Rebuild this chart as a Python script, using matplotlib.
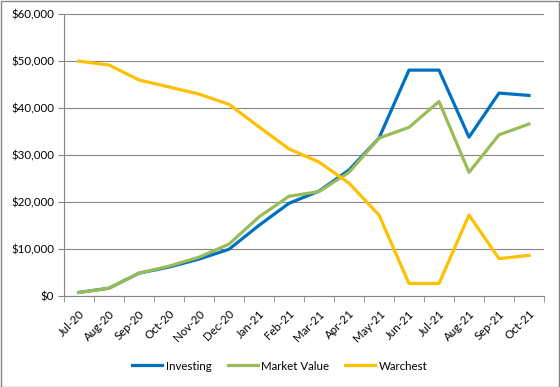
import matplotlib.pyplot as plt
from matplotlib.ticker import FuncFormatter, MultipleLocator
from matplotlib.transforms import ScaledTranslation
import numpy as np

months = ['Jul-20', 'Aug-20', 'Sep-20', 'Oct-20', 'Nov-20', 'Dec-20', 'Jan-21', 'Feb-21',
          'Mar-21', 'Apr-21', 'May-21', 'Jun-21', 'Jul-21', 'Aug-21', 'Sep-21', 'Oct-21']
investing = [700, 1600, 4800, 6100, 7800, 9900, 15000, 19700,
             22300, 26800, 33600, 48100, 48100, 33800, 43200, 42700]
market_value = [700, 1600, 4800, 6300, 8200, 11000, 16800, 21200,
                22200, 26300, 33600, 35900, 41400, 26300, 34300, 36600]
warchest = [50000, 49200, 46000, 44500, 43000, 40800, 36000, 31300,
            28500, 24000, 17200, 2600, 2600, 17200, 7900, 8600]

plt.rcParams['font.family'] = ['Lato', 'DejaVu Sans']
fs = 8.3

fig = plt.figure(figsize=(5.6, 3.87), dpi=100)
ax = fig.add_axes([64 / 560, 1 - 295.7 / 387, 480 / 560, 281.4 / 387])

x = np.arange(len(months))
ax.plot(x, investing, color='#0070C0', lw=2.3, label='Investing', solid_joinstyle='round')
ax.plot(x, market_value, color='#9BBB59', lw=2.3, label='Market Value', solid_joinstyle='round')
ax.plot(x, warchest, color='#FFC000', lw=2.3, label='Warchest', solid_joinstyle='round')

ax.set_xlim(-0.5, len(months) - 0.5)
ax.set_ylim(0, 60000)
ax.yaxis.set_major_locator(MultipleLocator(10000))
ax.yaxis.set_major_formatter(FuncFormatter(lambda v, p: f'${v:,.0f}'))
ax.grid(axis='y', color='#868686', lw=0.8)
ax.set_axisbelow(True)

ax.set_xticks(x)
ax.set_xticklabels(months, rotation=45, ha='right', rotation_mode='anchor', fontsize=fs)
shift = ScaledTranslation(4 / 72, 0, fig.dpi_scale_trans)
for lbl in ax.get_xticklabels():
    lbl.set_transform(lbl.get_transform() + shift)
ax.set_xticks(np.arange(-0.5, len(months)), minor=True)
ax.tick_params(axis='x', which='major', length=0, pad=9)
ax.tick_params(axis='x', which='minor', length=4, color='#868686')
ax.tick_params(axis='y', length=4, color='#868686', labelsize=fs, pad=3)

for side in ['top', 'right']:
    ax.spines[side].set_visible(False)
ax.spines['left'].set_color('#868686')
ax.spines['bottom'].set_color('#868686')

fig.legend(loc='center', bbox_to_anchor=(0.5, 1 - 366 / 387), ncol=3, frameon=False,
           fontsize=fs, handlelength=2.6, columnspacing=1.4, handletextpad=0.3)

fig.patches.append(plt.Rectangle((0.001, 0.001), 0.997, 0.997, transform=fig.transFigure,
                                 fill=False, edgecolor='#868686', lw=1))

fig.savefig('out.png', dpi=100)
